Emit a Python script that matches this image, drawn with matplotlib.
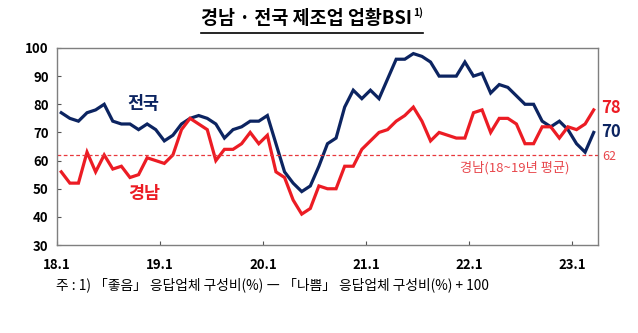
import matplotlib
matplotlib.use('Agg')
import matplotlib.pyplot as plt
import numpy as np
from matplotlib.lines import Line2D

plt.rcParams['font.family'] = ['Noto Sans CJK KR', 'DejaVu Sans']

# monthly BSI, 2018.1 ~ 2023.3
national = [77, 75, 74, 77, 78, 80, 74, 73, 73, 71, 73, 71,
            67, 69, 73, 75, 76, 75, 73, 68, 71, 72, 74, 74,
            76, 66, 56, 52, 49, 51, 58, 66, 68, 79, 85, 82,
            85, 82, 89, 96, 96, 98, 97, 95, 90, 90, 90, 95,
            90, 91, 84, 87, 86, 83, 80, 80, 74, 72, 74, 71,
            66, 63, 70]
gyeongnam = [56, 52, 52, 63, 56, 62, 57, 58, 54, 55, 61, 60,
             59, 62, 71, 75, 73, 71, 60, 64, 64, 66, 70, 66,
             69, 56, 54, 46, 41, 43, 51, 50, 50, 58, 58, 64,
             67, 70, 71, 74, 76, 79, 74, 67, 70, 69, 68, 68,
             77, 78, 70, 75, 75, 73, 66, 66, 72, 72, 68, 72,
             71, 73, 78]
avg_gn = 62
year_labels = ['18.1', '19.1', '20.1', '21.1', '22.1', '23.1']

navy = '#0c2461'
red = '#ec1c24'

fig = plt.figure(figsize=(6.38, 3.33), dpi=100)
ax = fig.add_axes([0.0893, 0.264, 0.848, 0.592])

x = np.arange(len(national))
ax.plot(x, national, color=navy, lw=2.3, solid_joinstyle='miter')
ax.plot(x, gyeongnam, color=red, lw=2.3, solid_joinstyle='miter')
ax.axhline(avg_gn, color='#e8383d', lw=0.9, ls=(0, (3, 2)))

ax.set_xlim(-0.5, len(national) - 0.5)
ax.set_ylim(30, 100)
ax.set_yticks(range(30, 101, 10))
ax.set_xticks(np.arange(-0.5, len(national), 12))
ax.set_xticklabels(year_labels)
ax.tick_params(axis='both', direction='in', length=3, width=0.8, colors='#555555',
               labelcolor='black', labelsize=9.5)
ax.tick_params(axis='x', pad=9)
ax.tick_params(axis='y', pad=6)
for lab in ax.get_xticklabels() + ax.get_yticklabels():
    lab.set_fontweight('bold')
for s in ax.spines.values():
    s.set_color('#7f7f7f')
    s.set_linewidth(1.0)

# series labels
ax.text(9.6, 80, '전국', color=navy, fontsize=12.5, fontweight='bold', ha='center', va='center')
ax.text(9.6, 48, '경남', color=red, fontsize=12.5, fontweight='bold', ha='center', va='center')
ax.text(52.8, 57.4, '경남(18~19년 평균)', color='#e8474c', fontsize=9.5, ha='center', va='center')

# end values
ax.text(62.85, 78.8, str(gyeongnam[-1]), color=red, fontsize=12, fontweight='bold',
        ha='left', va='center', clip_on=False)
ax.text(62.85, 70.2, str(national[-1]), color=navy, fontsize=12, fontweight='bold',
        ha='left', va='center', clip_on=False)
ax.text(62.95, 61.4, str(avg_gn), color='#e8474c', fontsize=9, ha='left', va='center',
        clip_on=False)

# title with underline and superscript
title = fig.text(0.315, 0.945, '경남 · 전국 제조업 업황BSI', fontsize=13.3, fontweight='bold',
                 ha='left', va='center')
fig.canvas.draw()
bb = title.get_window_extent()
W, H = fig.bbox.width, fig.bbox.height
sup = fig.text(bb.x1 / W + 0.002, 0.962, '1)', fontsize=7.5, fontweight='bold',
               ha='left', va='center')
fig.canvas.draw()
sb = sup.get_window_extent()
fig.add_artist(Line2D([bb.x0 / W, sb.x1 / W], [0.902, 0.902], color='black', lw=1.2))

fig.text(0.088, 0.145, '주 : 1) 「좋음」 응답업체 구성비(%) ― 「나쁨」 응답업체 구성비(%) + 100',
         fontsize=9.9, ha='left', va='center')

fig.savefig('out.png', dpi=100)
